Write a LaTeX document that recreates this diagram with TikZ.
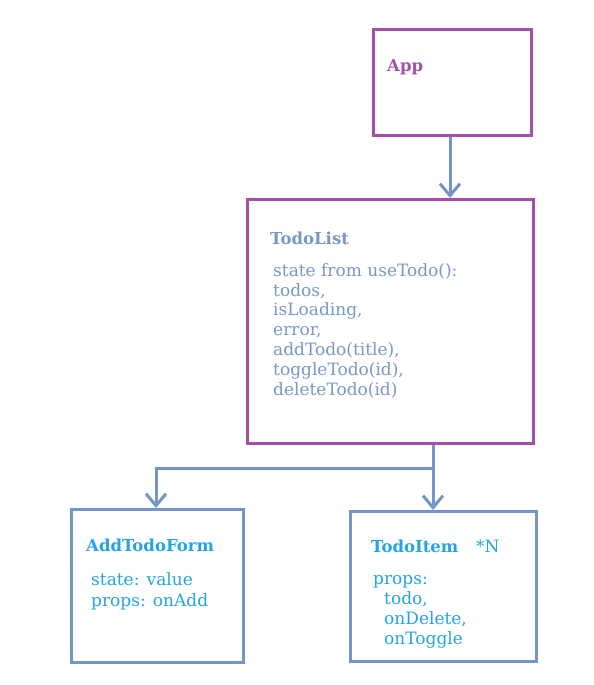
\documentclass[tikz,border=0pt]{standalone}
\usepackage{fontspec}
\setmainfont{DejaVu Serif}
\usetikzlibrary{arrows.meta}
\definecolor{purp}{HTML}{A64FA8}
\definecolor{steel}{HTML}{7396C6}
\definecolor{steeltext}{HTML}{7898C8}
\definecolor{cyantext}{HTML}{22A4E6}
\tikzset{
  box/.style={draw, line width=3pt, inner sep=0pt},
  purplebox/.style={box, draw=purp},
  bluebox/.style={box, draw=steel},
  conn/.style={draw=steel, line width=3pt, -{Straight Barb[length=12pt,width=20pt,line width=3pt]}},
  ttl/.style={anchor=base west, inner sep=0pt, font=\bfseries\fontsize{16.5}{19}\selectfont},
  body/.style={anchor=base west, inner sep=0pt, align=left, font=\fontsize{17}{19.8}\selectfont},
}
\begin{document}
\begin{tikzpicture}[x=1pt,y=-1pt]
\useasboundingbox (0,0) rectangle (594,685);
% boxes
\node[purplebox, minimum width=158pt, minimum height=106pt, anchor=north west] (app) at (372,28) {};
\node[purplebox, minimum width=286pt, minimum height=244pt, anchor=north west] (todolist) at (246,198) {};
\node[bluebox, minimum width=172pt, minimum height=153pt, anchor=north west] (form) at (70,508) {};
\node[bluebox, minimum width=186pt, minimum height=150pt, anchor=north west] (item) at (349,510) {};
% texts (multi-line nodes anchored at the baseline of their last line)
\node[ttl, text=purp] (tapp) at (387,71) {App};
\node[ttl, text=steeltext] (ttl2) at (270,244) {TodoList};
\node[body, text=steeltext] (b2) at (273,395) {state from useTodo():\\todos,\\isLoading,\\error,\\addTodo(title),\\toggleTodo(id),\\deleteTodo(id)};
\node[ttl, text=cyantext] (ttl3) at (86,551) {AddTodoForm};
\node[body, text=cyantext, font=\fontsize{17}{20.5}\selectfont] (b3) at (91,606) {state: value\\props: onAdd};
\node[ttl, text=cyantext] (ttl4) at (371,552) {TodoItem};
\node[anchor=base west, inner sep=0pt, text=cyantext, font=\fontsize{17}{19}\selectfont] (n) at (476,552) {*N};
\node[body, text=cyantext, font=\fontsize{17}{20}\selectfont] (b4) at (373,644) {props:\\\hspace*{11pt}todo,\\\hspace*{11pt}onDelete,\\\hspace*{11pt}onToggle};
% connectors
\coordinate (split) at (433,468);
\draw[conn] (app.south -| 450,0) -- (todolist.north -| 450,0);
\draw[conn] (todolist.south -| split) -- (item.north -| split);
\draw[conn] (split) -- (split -| 156,0) -- (form.north -| 156,0);
\end{tikzpicture}
\end{document}
